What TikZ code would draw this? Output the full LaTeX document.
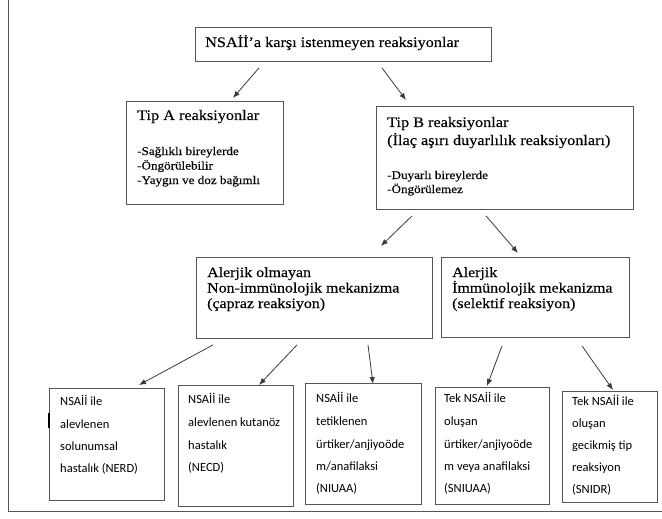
\documentclass[tikz,border=0pt]{standalone}
\usepackage{fontspec}
\setmainfont{Liberation Serif}[FakeStretch=1.12,FakeBold=0.25]
\newfontfamily\calib{Carlito}
\usetikzlibrary{arrows.meta}
\definecolor{boxgray}{HTML}{555555}
\definecolor{arrgray}{HTML}{3A3A3A}
\tikzset{
  boxnode/.style={draw=boxgray, line width=0.9pt, rectangle, inner sep=0pt, anchor=north west},
  arr/.style={draw=arrgray, line width=0.8pt, -{Latex[length=7pt,width=5.5pt]}},
  ttl/.style={anchor=base west, inner sep=0pt, font=\fontsize{14.5}{16}\selectfont},
  mid/.style={anchor=base west, inner sep=0pt, font=\fontsize{14.2}{16}\selectfont},
  sml/.style={anchor=base west, inner sep=0pt, font=\fontsize{11.7}{13}\selectfont},
  cal/.style={anchor=base west, inner sep=0pt, font=\calib\fontsize{12.5}{14}\selectfont},
}
\begin{document}
\begin{tikzpicture}[x=1pt,y=-1pt]
\useasboundingbox (0,0) rectangle (662,519);
% frame
\draw[boxgray, line width=0.9pt] (8,0) -- (8,511) -- (662,511);

% boxes
\node[boxnode, minimum width=296pt, minimum height=34pt] (top) at (195,27) {};
\node[boxnode, minimum width=157pt, minimum height=103pt] (tipa) at (126,101) {};
\node[boxnode, minimum width=257pt, minimum height=103pt] (tipb) at (376,106) {};
\node[boxnode, minimum width=236pt, minimum height=81pt] (nonal) at (196,257) {};
\node[boxnode, minimum width=188pt, minimum height=80pt] (al) at (441,257) {};
\node[boxnode, minimum width=115pt, minimum height=112pt] (b1) at (49,388) {};
\node[boxnode, minimum width=115pt, minimum height=121pt] (b2) at (178,385) {};
\node[boxnode, minimum width=116pt, minimum height=121pt] (b3) at (305,383) {};
\node[boxnode, minimum width=114pt, minimum height=117pt] (b4) at (435,387) {};
\node[boxnode, minimum width=95pt, minimum height=111pt] (b5) at (562,391) {};
\draw[black, line width=2pt] ([yshift=-25pt]b1.north west) -- ([yshift=-40pt]b1.north west);

% texts
\node[ttl] (t0) at (205,47) {NSAİİ’a karşı istenmeyen reaksiyonlar};

\node[ttl] (ta1) at (137,120) {Tip A reaksiyonlar};
\node[sml] (ta2) at (137,155) {-Sağlıklı bireylerde};
\node[sml] (ta3) at (137,169.5) {-Öngörülebilir};
\node[sml] (ta4) at (137,184) {-Yaygın ve doz bağımlı};

\node[ttl] (tb1) at (387,127) {Tip B reaksiyonlar};
\node[ttl] (tb2) at (387,145) {(İlaç aşırı duyarlılık reaksiyonları)};
\node[sml] (tb3) at (387,179) {-Duyarlı bireylerde};
\node[sml] (tb4) at (387,193) {-Öngörülemez};

\node[mid] (tn1) at (207,277) {Alerjik olmayan};
\node[mid] (tn2) at (207,292.5) {Non-immünolojik mekanizma};
\node[mid] (tn3) at (207,308) {(çapraz reaksiyon)};

\node[mid] (tl1) at (452,277) {Alerjik};
\node[mid] (tl2) at (452,292.5) {İmmünolojik mekanizma};
\node[mid] (tl3) at (452,308) {(selektif reaksiyon)};

\node[cal] (c11) at (60,405) {NSAİİ ile};
\node[cal] (c12) at (60,428) {alevlenen};
\node[cal] (c13) at (60,450) {solunumsal};
\node[cal] (c14) at (60,472) {hastalık (NERD)};

\node[cal] (c21) at (188,403) {NSAİİ ile};
\node[cal] (c22) at (188,426) {alevlenen kutanöz};
\node[cal] (c23) at (188,449) {hastalık};
\node[cal] (c24) at (188,471) {(NECD)};

\node[cal] (c31) at (316,402) {NSAİİ ile};
\node[cal] (c32) at (316,425) {tetiklenen};
\node[cal] (c33) at (316,448) {ürtiker/anjiyoöde};
\node[cal] (c34) at (316,470) {m/anafilaksi};
\node[cal] (c35) at (316,492) {(NIUAA)};

\node[cal] (c41) at (444,402) {Tek NSAİİ ile};
\node[cal] (c42) at (444,425) {oluşan};
\node[cal] (c43) at (444,448) {ürtiker/anjiyoöde};
\node[cal] (c44) at (444,470) {m veya anafilaksi};
\node[cal] (c45) at (444,492) {(SNIUAA)};

\node[cal] (c51) at (572,405) {Tek NSAİİ ile};
\node[cal] (c52) at (572,427) {oluşan};
\node[cal] (c53) at (572,449) {gecikmiş tip};
\node[cal] (c54) at (572,471) {reaksiyon};
\node[cal] (c55) at (572,493) {(SNIDR)};

% arrows
\draw[arr] ([shift={(64,6)}]top.south west) -- ([shift={(107,-3)}]tipa.north west);
\draw[arr] ([shift={(187,6)}]top.south west) -- ([shift={(30,-6)}]tipb.north west);
\draw[arr] ([shift={(36,6)}]tipb.south west) -- ([shift={(-52,-11)}]nonal.north east);
\draw[arr] ([shift={(110,6)}]tipb.south west) -- ([shift={(77,-4)}]al.north west);
\draw[arr] ([shift={(17,6)}]nonal.south west) -- ([shift={(90,-3)}]b1.north west);
\draw[arr] ([shift={(101,6)}]nonal.south west) -- ([shift={(81,0)}]b2.north west);
\draw[arr] ([shift={(172,6)}]nonal.south west) -- ([shift={(68,1)}]b3.north west);
\draw[arr] ([shift={(61,8)}]al.south west) -- ([shift={(52,-1)}]b4.north west);
\draw[arr] ([shift={(141,8)}]al.south west) -- ([shift={(51,-1)}]b5.north west);
\end{tikzpicture}
\end{document}
